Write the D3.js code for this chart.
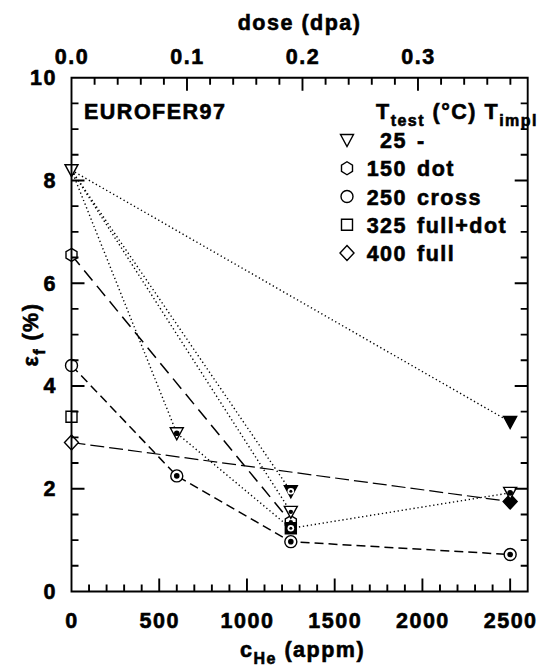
<!DOCTYPE html>
<html><head><meta charset="utf-8">
<script src="https://cdn.jsdelivr.net/npm/d3@7"></script>
<style>
body{margin:0;background:#fff}
svg text{font-family:"Liberation Sans",Arial,sans-serif;font-weight:700;font-size:21.5px;letter-spacing:1.5px;fill:#000}
</style></head><body>
<svg id="c" width="547" height="667"></svg>
<script>
// ---- data ----
const xTicks = [0, 500, 1000, 1500, 2000, 2500];
const doseTicks = [0.0, 0.1, 0.2, 0.3];
const yTicks = [0, 2, 4, 6, 8, 10];

// markers: T_test shape, c_He, eps_f, T_impl style
const triX = [0, 600, 1250, 1250, 2500, 2500];
const triY = [8.2, 3.08, 1.95, 1.55, 3.3, 1.92];
const triStyle = ["open", "cross", "full+dot", "dot", "full", "cross"];
const hexX = [0, 1250];
const hexY = [6.55, 1.35];
const hexStyle = ["open", "dot"];
const cirX = [0, 600, 1250, 2500];
const cirY = [4.4, 2.25, 0.97, 0.72];
const cirStyle = ["open", "cross", "cross", "cross"];
const sqX = [0, 1250];
const sqY = [3.4, 1.23];
const sqStyle = ["open", "full+dot"];
const diaX = [0, 2500];
const diaY = [2.9, 1.75];
const diaStyle = ["open", "full"];

// connecting lines
const dotLine1 = [[0, 8.2], [2500, 3.3]];
const dotLine2 = [[0, 8.2], [1250, 1.95]];
const dotLine3 = [[0, 8.2], [1250, 1.55]];
const dotLine4 = [[0, 8.2], [600, 3.08], [1250, 1.23], [2500, 1.92]];
const hexLine = [[0, 6.55], [1250, 1.35]];
const cirLine = [[0, 4.4], [600, 2.25], [1250, 0.97], [2500, 0.72]];
const diaLine = [[0, 2.9], [2500, 1.75]];

const legendTemps = ["25", "150", "250", "325", "400"];
const legendImpl = ["-", "dot", "cross", "full+dot", "full"];
const legendShapes = ["tri", "hex", "cir", "sq", "dia"];

// ---- layout ----
const L = 71.5, R = 527.7, T = 77.7, B = 591.5;
const x = d3.scaleLinear().domain([0, 2600]).range([L, R]);
const xTop = d3.scaleLinear().domain([0, 0.395]).range([L, R]);
const y = d3.scaleLinear().domain([0, 10]).range([B, T]);

const svg = d3.select("#c");

// lines
const line = d3.line().x(d => x(d[0])).y(d => y(d[1]));
function drawLine(data, dash, w) {
  svg.append("path").attr("d", line(data)).attr("fill", "none")
    .attr("stroke", "#000").attr("stroke-width", w).attr("stroke-dasharray", dash);
}
[dotLine1, dotLine2, dotLine3, dotLine4].forEach(d => drawLine(d, "1.3,2.7", 1.4));
drawLine(hexLine, "13,7", 1.5);
drawLine(cirLine, "9,5", 1.5);
drawLine(diaLine, "14,5", 1.2);

// marker shapes
function shapePath(s) {
  if (s === "tri") return "M-6.5,-5.5L6.5,-5.5L0,6.5Z";
  if (s === "hex") return "M0,-6.5L5.5,-3.2L5.5,3.2L0,6.5L-5.5,3.2L-5.5,-3.2Z";
  if (s === "sq") return "M-5.5,-5.5L5.5,-5.5L5.5,5.5L-5.5,5.5Z";
  if (s === "dia") return "M0,-7.5L7,0L0,7.5L-7,0Z";
  return null;
}
function marker(g, s, cx, cy, style) {
  const full = style === "full" || style === "full+dot";
  const gg = g.append("g").attr("transform", `translate(${cx},${cy})`);
  if (s === "cir") gg.append("circle").attr("r", 6);
  else gg.append("path").attr("d", shapePath(s));
  gg.selectAll("circle,path").attr("fill", full ? "#000" : "#fff").attr("stroke", "#000").attr("stroke-width", 1.4);
  if (style === "dot") gg.append("circle").attr("r", 2.2).attr("fill", "#000");
  if (style === "cross") gg.append("circle").attr("r", 2.8).attr("fill", "#000");
  if (style === "full+dot") {
    gg.append("circle").attr("r", 3.3).attr("fill", "#fff");
    gg.append("circle").attr("r", 1.5).attr("fill", "#000");
  }
}
const mg = svg.append("g");
function series(s, X, Y, S) { X.forEach((v, i) => marker(mg, s, x(v), y(Y[i]), S[i])); }
series("dia", diaX, diaY, diaStyle);
series("cir", cirX, cirY, cirStyle);
series("hex", hexX, hexY, hexStyle);
series("sq", sqX, sqY, sqStyle);
series("tri", triX, triY, triStyle);

// tick labels via d3 axes
function labelAxis(g) {
  g.select(".domain").remove();
  g.selectAll(".tick line").remove();
  g.attr("font-family", null).attr("font-size", null);
  return g;
}
labelAxis(svg.append("g").attr("transform", `translate(0,${B})`)
  .call(d3.axisBottom(x).tickValues(xTicks).tickFormat(d3.format("d")).tickSize(0).tickPadding(21)));
labelAxis(svg.append("g").attr("transform", `translate(0,${T})`)
  .call(d3.axisTop(xTop).tickValues(doseTicks).tickFormat(d3.format(".1f")).tickSize(0).tickPadding(13.7)));
labelAxis(svg.append("g").attr("transform", `translate(${L},0)`)
  .call(d3.axisLeft(y).tickValues(yTicks).tickFormat(d3.format("d")).tickSize(0).tickPadding(14.5)));

// frame + inward ticks in one path
const minorX = d3.range(0, 2600, 100).filter(v => v % 500 !== 0);
const minorTop = d3.range(1, 20).map(i => i * 0.02).filter((v, i) => (i + 1) % 5 !== 0);
const minorY = d3.range(0.5, 10, 0.5).filter(v => v % 2 !== 0);
let fd = `M${L},${T}H${R}V${B}H${L}Z`;
const H = (scale, vals, y0, len) => vals.forEach(v => { fd += `M${scale(v)},${y0}v${len}`; });
const V = (scale, vals, x0, len) => vals.forEach(v => { fd += `M${x0},${scale(v)}h${len}`; });
H(x, xTicks, B, -13); H(x, minorX, B, -7);
H(xTop, doseTicks, T, 13); H(xTop, minorTop, T, 7);
V(y, yTicks, L, 13); V(y, minorY, L, 7);
V(y, yTicks, R, -13); V(y, minorY, R, -7);
svg.append("path").attr("d", fd).attr("fill", "none").attr("stroke", "#000").attr("stroke-width", 1.9);

// axis titles
svg.append("text").attr("x", (L + R) / 2).attr("y", 30).attr("text-anchor", "middle").text("dose (dpa)");
const xl = svg.append("text").attr("x", (L + R) / 2 + 3).attr("y", 657).attr("text-anchor", "middle");
xl.append("tspan").text("c");
xl.append("tspan").attr("dy", 7).attr("font-size", "16px").text("He");
xl.append("tspan").attr("dy", -7).text(" (appm)");
const yl = svg.append("text").attr("transform", `translate(38,${(T + B) / 2}) rotate(-90)`).attr("text-anchor", "middle");
yl.append("tspan").text("ε");
yl.append("tspan").attr("dy", 7).attr("font-size", "16px").text("f");
yl.append("tspan").attr("dy", -7).text(" (%)");

// annotations / legend
svg.append("text").attr("x", 84).attr("y", 119).text("EUROFER97");
const hd = svg.append("text").attr("x", 376).attr("y", 119);
hd.append("tspan").text("T");
hd.append("tspan").attr("dy", 7).attr("font-size", "16px").text("test");
hd.append("tspan").attr("dy", -7).text(" (°C) T");
hd.append("tspan").attr("dy", 7).attr("font-size", "16px").text("impl");

const legY = d3.scaleLinear().domain([0, 4]).range([140, 253]);
legendTemps.forEach((t, i) => {
  const cy = legY(i);
  marker(svg, legendShapes[i], 347, cy, "open");
  svg.append("text").attr("x", 407).attr("y", cy + 8).attr("text-anchor", "end").text(t);
  svg.append("text").attr("x", 417).attr("y", cy + 8).text(legendImpl[i]);
});

// heavier text strokes
svg.selectAll("text").style("stroke", "#000").style("stroke-width", "0.6px");
</script></body></html>
